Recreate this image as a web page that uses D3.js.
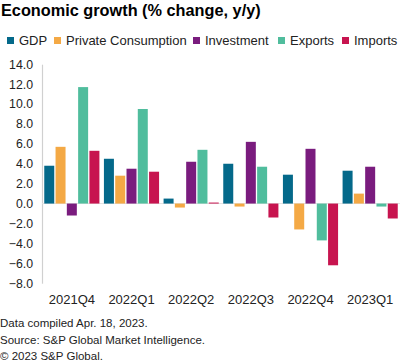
<!DOCTYPE html>
<html><head><meta charset="utf-8">
<script src="https://cdn.jsdelivr.net/npm/d3@7"></script>
<style>body{margin:0;background:#fff;} svg{display:block;font-family:"Liberation Sans",Arial,sans-serif;}</style>
</head><body>
<svg id="c" width="403" height="364"></svg>
<script>
const categories = ["2021Q4","2022Q1","2022Q2","2022Q3","2022Q4","2023Q1"];
const seriesNames = ["GDP","Private Consumption","Investment","Exports","Imports"];
const gdp = [3.8, 4.5, 0.5, 4.0, 2.9, 3.3];
const privateConsumption = [5.7, 2.8, -0.4, -0.3, -2.6, 1.0];
const investment = [-1.2, 3.5, 4.2, 6.2, 5.5, 3.7];
const exportsS = [11.7, 9.5, 5.4, 3.7, -3.7, -0.3];
const imports = [5.3, 3.2, 0.1, -1.4, -6.2, -1.5];
const colors = ["#04698a","#f4a945","#7a1c7e","#50bd9d","#c7144f"];
const yTicks = [14,12,10,8,6,4,2,0,-2,-4,-6,-8];
const notes = ["Data compiled Apr. 18, 2023.","Source: S&P Global Market Intelligence.","\u00a9 2023 S&P Global."];

const seriesValues = [gdp, privateConsumption, investment, exportsS, imports];
const svg = d3.select("#c");

svg.append("text").attr("x",1).attr("y",16).attr("font-size",16.3).attr("font-weight","bold").attr("fill","#000")
  .text("Economic growth (% change, y/y)");

// legend
const legendX = [7, 54, 193, 278, 342];
const lg = svg.append("g");
seriesNames.forEach((n,i)=>{
  lg.append("rect").attr("x",legendX[i]).attr("y",37).attr("width",7).attr("height",7).attr("fill",colors[i]);
  lg.append("text").attr("x",legendX[i]+12).attr("y",45).attr("font-size",13).attr("fill","#222").text(n);
});

const y = d3.scaleLinear().domain([-8,14]).range([283.2,64.2]);
const x0 = d3.scaleBand().domain(categories).range([42,400]).paddingInner(0).paddingOuter(0);
const x1 = d3.scaleBand().domain(seriesNames).range([0,x0.bandwidth()]).paddingInner(0.115).paddingOuter(0.2);

// y axis
const yAxis = d3.axisLeft(y).tickValues(yTicks).tickFormat(d3.format(".1f")).tickSize(0).tickPadding(9);
const ya = svg.append("g").attr("transform","translate(42,0)").call(yAxis);
ya.select(".domain").attr("stroke","#d0d0d0").attr("stroke-width",1.2);
ya.selectAll("text").attr("font-size",12.3).attr("fill","#222").attr("font-family","Liberation Sans, Arial, sans-serif");

// zero line
svg.append("line").attr("x1",42).attr("x2",400).attr("y1",y(0)).attr("y2",y(0)).attr("stroke","#e2e2e2").attr("stroke-width",1);

// bars
const g = svg.append("g");
categories.forEach((c,ci)=>{
  seriesNames.forEach((s,si)=>{
    const v = seriesValues[si][ci];
    g.append("rect")
      .attr("x", x0(c)+x1(s))
      .attr("y", y(Math.max(0,v)))
      .attr("width", x1.bandwidth())
      .attr("height", Math.max(1, Math.abs(y(v)-y(0))))
      .attr("fill", colors[si]);
  });
});

// x axis labels
const xAxis = d3.axisBottom(x0).tickSize(0).tickPadding(0);
const xa = svg.append("g").attr("transform","translate(0,295)").call(xAxis);
xa.select(".domain").remove();
xa.selectAll("text").attr("font-size",13).attr("fill","#222").attr("font-family","Liberation Sans, Arial, sans-serif");

notes.forEach((t,i)=>{
  svg.append("text").attr("x",0).attr("y",327+i*16.5).attr("font-size",11.5).attr("fill","#222").text(t);
});
</script>
</body></html>
